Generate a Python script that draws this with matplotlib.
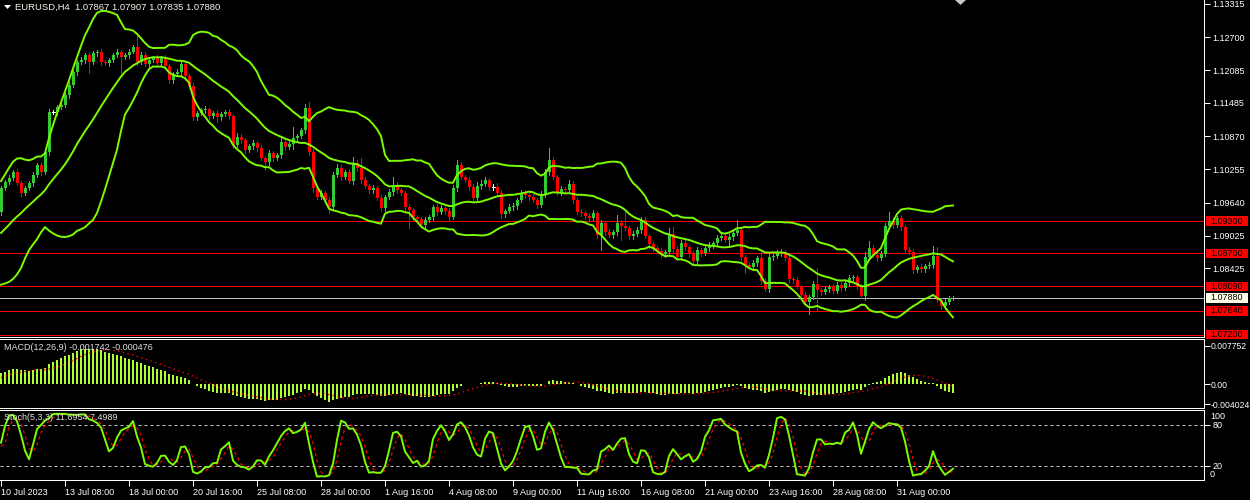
import numpy as np
import pandas as pd
import matplotlib
matplotlib.use('Agg')
import matplotlib.pyplot as plt
from matplotlib.transforms import blended_transform_factory
from matplotlib.patches import Rectangle, Polygon

plt.rcParams['font.family'] = ['Liberation Sans', 'DejaVu Sans']

# ---------------- data ----------------
header_text = "EURUSD,H4  1.07867 1.07907 1.07835 1.07880"
macd_label = "MACD(12,26,9) -0.001742 -0.000476"
stoch_label = "Stoch(5,3,3) 11.6954 7.4989"

# bars before the visible window (only needed to seed the indicators)
warmup_close = [1.0915, 1.0920, 1.0925, 1.0910, 1.0905, 1.0912,
                1.0885, 1.0880, 1.0890, 1.0882, 1.0888, 1.0880,
                1.0875, 1.0878, 1.0865, 1.0855, 1.0860, 1.0852,
                1.0860, 1.0855, 1.0840, 1.0860, 1.0885, 1.0890,
                1.0895, 1.0900, 1.0915, 1.0945, 1.0960, 1.0970,
                1.0965, 1.0960, 1.0955, 1.0947]

# H4 closes, 10 Jul 2023 16:00 -> 4 Sep 2023 08:00
close = [
    1.0991, 1.1002, 1.1010, 1.1021, 1.1000, 1.0982, 1.0991, 1.1000, 1.1015, 1.1034,
    1.1021, 1.1058, 1.1132, 1.1132, 1.1141, 1.1145, 1.1163, 1.1182, 1.1206, 1.1224,
    1.1228, 1.1237, 1.1224, 1.1241, 1.1243, 1.1224, 1.1222, 1.1228, 1.1237, 1.1243,
    1.1234, 1.1237, 1.1243, 1.1252, 1.1224, 1.1237, 1.1221, 1.1228, 1.1232, 1.1222,
    1.1232, 1.1217, 1.1191, 1.1202, 1.1206, 1.1221, 1.1198, 1.1180, 1.1122, 1.1130,
    1.1135, 1.1137, 1.1124, 1.1130, 1.1122, 1.1128, 1.1132, 1.1124, 1.1071, 1.1086,
    1.1080, 1.1061, 1.1069, 1.1074, 1.1065, 1.1047, 1.1039, 1.1056, 1.1047, 1.1052,
    1.1076, 1.1067, 1.1073, 1.1084, 1.1087, 1.1098, 1.1139, 1.1058, 1.0991, 1.0975,
    1.0982, 1.0969, 1.0956, 1.1015, 1.1028, 1.1012, 1.1021, 1.1004, 1.1037, 1.1028,
    1.1006, 1.0995, 1.0987, 1.0991, 1.0973, 1.0954, 1.0975, 1.0984, 1.0997, 1.0987,
    1.0982, 1.0956, 1.0950, 1.0937, 1.0934, 1.0923, 1.0932, 1.0937, 1.0956, 1.0947,
    1.0954, 1.0949, 1.0937, 1.0991, 1.1034, 1.1012, 1.1006, 1.0993, 1.0973, 1.0995,
    1.0999, 1.1006, 1.0993, 1.0993, 1.0982, 1.0943, 1.0949, 1.0956, 1.0958, 1.0969,
    1.0982, 1.0978, 1.0975, 1.0969, 1.0960, 1.0980, 1.1021, 1.1043, 1.1012, 1.0984,
    1.0989, 1.0987, 1.0999, 1.0969, 1.0947, 1.0945, 1.0939, 1.0936, 1.0945, 1.0904,
    1.0926, 1.0910, 1.0904, 1.0910, 1.0926, 1.0921, 1.0917, 1.0902, 1.0906, 1.0913,
    1.0932, 1.0902, 1.0887, 1.0880, 1.0875, 1.0869, 1.0873, 1.0906, 1.0878, 1.0863,
    1.0889, 1.0882, 1.0869, 1.0856, 1.0876, 1.0871, 1.0880, 1.0886, 1.0889, 1.0899,
    1.0902, 1.0895, 1.0900, 1.0908, 1.0913, 1.0863, 1.0849, 1.0845, 1.0852, 1.0862,
    1.0819, 1.0804, 1.0863, 1.0865, 1.0871, 1.0873, 1.0862, 1.0823, 1.0821, 1.0808,
    1.0793, 1.0780, 1.0789, 1.0813, 1.0802, 1.0799, 1.0804, 1.0808, 1.0801, 1.0812,
    1.0806, 1.0815, 1.0825, 1.0826, 1.0808, 1.0791, 1.0863, 1.0880, 1.0867, 1.0862,
    1.0869, 1.0921, 1.0930, 1.0923, 1.0936, 1.0919, 1.0876, 1.0873, 1.0839, 1.0845,
    1.0841, 1.0847, 1.0849, 1.0865, 1.0784, 1.0773, 1.0780, 1.0787, 1.0788]

# upper / lower shadow lengths in pips
wick_up = [
    4, 3, 5, 3, 6, 4, 3, 4, 5, 4,
    6, 4, 5, 3, 4, 6, 4, 5, 4, 3,
    5, 4, 6, 3, 4, 5, 3, 4, 4, 5,
    4, 3, 5, 4, 26, 5, 6, 4, 3, 5,
    4, 5, 3, 4, 6, 4, 5, 4, 6, 3,
    4, 5, 3, 4, 5, 3, 4, 5, 4, 6,
    5, 4, 3, 5, 4, 6, 4, 5, 3, 4,
    9, 4, 5, 20, 4, 5, 8, 11, 5, 4,
    5, 4, 6, 5, 7, 5, 4, 6, 11, 5,
    18, 5, 4, 6, 4, 5, 4, 5, 15, 6,
    5, 4, 6, 4, 5, 4, 6, 5, 4, 6,
    5, 4, 5, 6, 9, 5, 4, 6, 5, 8,
    6, 5, 4, 5, 8, 5, 4, 6, 5, 4,
    5, 6, 4, 5, 4, 6, 5, 22, 5, 4,
    5, 4, 6, 5, 4, 5, 4, 5, 6, 4,
    5, 4, 5, 4, 15, 5, 25, 4, 5, 6,
    5, 6, 4, 5, 4, 5, 4, 11, 13, 5,
    6, 5, 4, 5, 6, 4, 5, 6, 4, 5,
    4, 5, 6, 5, 18, 6, 5, 4, 5, 4,
    11, 5, 7, 4, 5, 6, 4, 5, 4, 5,
    4, 5, 4, 6, 30, 5, 6, 4, 5, 6,
    5, 4, 6, 5, 4, 5, 10, 13, 5, 4,
    5, 6, 17, 5, 4, 5, 4, 6, 5, 4,
    5, 4, 6, 18, 17, 4, 5, 4, 3]
wick_dn = [
    5, 4, 3, 5, 4, 6, 4, 3, 5, 4,
    5, 4, 6, 4, 5, 3, 4, 5, 4, 6,
    4, 5, 20, 4, 5, 6, 4, 5, 3, 4,
    30, 4, 5, 3, 6, 4, 5, 6, 4, 5,
    5, 4, 6, 5, 4, 5, 6, 4, 5, 6,
    4, 5, 6, 4, 8, 5, 4, 6, 5, 4,
    6, 5, 4, 6, 5, 4, 15, 5, 6, 4,
    5, 6, 4, 10, 5, 4, 5, 6, 7, 5,
    4, 6, 11, 5, 4, 6, 5, 4, 5, 6,
    5, 4, 6, 5, 4, 6, 5, 4, 5, 6,
    4, 5, 33, 5, 4, 6, 5, 4, 6, 5,
    4, 6, 5, 4, 6, 5, 4, 5, 6, 4,
    5, 4, 6, 5, 4, 7, 5, 4, 6, 5,
    4, 5, 6, 4, 5, 4, 6, 5, 4, 6,
    5, 4, 5, 6, 4, 5, 6, 4, 5, 6,
    28, 5, 4, 6, 5, 26, 4, 5, 6, 4,
    5, 4, 6, 5, 4, 6, 5, 4, 5, 6,
    4, 5, 6, 7, 4, 5, 4, 6, 5, 4,
    5, 4, 11, 5, 4, 6, 15, 4, 5, 6,
    5, 4, 6, 5, 4, 5, 4, 5, 6, 4,
    5, 5, 22, 4, 37, 5, 4, 6, 5, 4,
    6, 4, 5, 6, 4, 4, 7, 5, 4, 6,
    5, 4, 6, 5, 4, 6, 5, 4, 5, 4,
    5, 6, 4, 5, 4, 5, 6, 4, 4]

red_levels = [1.09300, 1.08700, 1.08090, 1.07640, 1.07200]
bid_level = 1.07880
price_ticks = [1.13315, 1.12700, 1.12085, 1.11485, 1.10870, 1.10255,
               1.09640, 1.09025, 1.08425]
macd_ticks = [0.007752, 0.0, -0.004024]
macd_tick_labels = ["0.007752", "0.00", "-0.004024"]
stoch_levels = [80, 20]
x_tick_idx = [0, 16, 32, 48, 64, 80, 96, 112, 128, 144, 160, 176, 192, 208, 224]
x_tick_labels = ["10 Jul 2023", "13 Jul 08:00", "18 Jul 00:00", "20 Jul 16:00",
                 "25 Jul 08:00", "28 Jul 00:00", "1 Aug 16:00", "4 Aug 08:00",
                 "9 Aug 00:00", "11 Aug 16:00", "16 Aug 08:00", "21 Aug 00:00",
                 "23 Aug 16:00", "28 Aug 08:00", "31 Aug 00:00"]

# ---------------- derived series ----------------
n = len(close)
nw = len(warmup_close)
c = np.array(close)
o = np.array([warmup_close[-1]] + close[:-1])
hi = np.maximum(o, c) + np.array(wick_up) * 1e-4
lo = np.minimum(o, c) - np.array(wick_dn) * 1e-4

s_close = pd.Series(list(warmup_close) + list(c))
s_high = pd.Series(list(warmup_close) + list(hi))
s_low = pd.Series(list(warmup_close) + list(lo))

mid = s_close.rolling(20).mean()
sd = s_close.rolling(20).std(ddof=0)
bb_mid = mid.values[nw:]
bb_up = (mid + 2 * sd).values[nw:]
bb_lo = (mid - 2 * sd).values[nw:]

ema12 = s_close.ewm(span=12, adjust=False).mean()
ema26 = s_close.ewm(span=26, adjust=False).mean()
macd = ema12 - ema26
sig = macd.rolling(9).mean()
macd_v = macd.values[nw:]
sig_v = sig.values[nw:]

hh = s_high.rolling(5).max()
ll = s_low.rolling(5).min()
k = 100 * (s_close - ll).rolling(3).sum() / (hh - ll).rolling(3).sum()
d = k.rolling(3).mean()
k_v = k.values[nw:]
d_v = d.values[nw:]

idx = np.arange(n)

# ---------------- figure ----------------
W, H = 1250, 500
fig = plt.figure(figsize=(12.5, 5), dpi=100, facecolor='black')
PX = 0.72
FS = 6.5
XR = 1204
XLIM = (-0.25, (XR - 1) / 4)


def axes_px(x0, y0, x1, y1):
    ax = fig.add_axes([x0 / W, 1 - y1 / H, (x1 - x0) / W, (y1 - y0) / H])
    ax.set_facecolor('black')
    ax.set_xlim(*XLIM)
    for sp in ax.spines.values():
        sp.set_color('white')
        sp.set_linewidth(PX)
    ax.spines['left'].set_visible(False)
    ax.tick_params(axis='x', bottom=False, labelbottom=False)
    ax.yaxis.tick_right()
    ax.tick_params(axis='y', colors='white', length=4, width=PX, pad=2,
                   labelsize=FS, direction='out')
    return ax


# main price panel
ax = axes_px(0, 0, XR, 337)
ax.spines['top'].set_visible(False)
ax.set_ylim(1.13389 - 0.000185 * 337, 1.13389)

for lv in red_levels:
    ax.axhline(lv, color='#FF0000', lw=PX, zorder=1, antialiased=False)
ax.axhline(bid_level, color='#C0C0C0', lw=PX, zorder=1, antialiased=False)

bull = c > o
bear = c < o
doji = c == o
GREEN = '#32CD32'
ax.vlines(idx[bull], lo[bull], hi[bull], color=GREEN, lw=PX, zorder=3,
          antialiased=False)
ax.vlines(idx[bear], lo[bear], hi[bear], color='#FF0000', lw=PX, zorder=3,
          antialiased=False)
ax.vlines(idx[doji], lo[doji], hi[doji], color='white', lw=PX, zorder=3,
          antialiased=False)
bw = 0.75
ax.bar(idx[bull], (c - o)[bull], bottom=o[bull], width=bw, color=GREEN,
       linewidth=0, zorder=4, antialiased=False)
ax.bar(idx[bear], (o - c)[bear], bottom=c[bear], width=bw, color='#FF0000',
       linewidth=0, zorder=4, antialiased=False)
ax.hlines(c[doji], idx[doji] - bw / 2, idx[doji] + bw / 2, color='white',
          lw=PX, zorder=4, antialiased=False)

bbc = '#7CFC00'
for band in (bb_up, bb_mid, bb_lo):
    ax.plot(idx, band, color=bbc, lw=1.4, zorder=5)

ax.set_yticks(price_ticks)
ax.set_yticklabels([f"{p:.5f}" for p in price_ticks])

tr = blended_transform_factory(ax.transAxes, ax.transData)
box_w = 42 / XR
box_h = 9.5 * 0.000185
for lv in red_levels + [bid_level]:
    fc = '#FF0000' if lv != bid_level else '#FFFFE8'
    ax.add_patch(Rectangle((1 + 2 / XR, lv - box_h / 2), box_w, box_h,
                           transform=tr, facecolor=fc, edgecolor='none',
                           clip_on=False, zorder=6))
    ax.text(1 + 23 / XR, lv, f"{lv:.5f}", transform=tr, ha='center',
            va='center', fontsize=FS, color='black', clip_on=False, zorder=7)

# MACD panel
axm = axes_px(0, 339, XR, 407.5)
px_per = 4.93 / 0.001
axm.set_ylim(-0.004024 - 3.5 / px_per, 0.007752 + 7 / px_per)
axm.bar(idx, macd_v, width=0.7, color='#ADFF2F', linewidth=0, zorder=2,
        antialiased=False)
axm.plot(idx, sig_v, color='#FF0000', lw=1.0, linestyle=(0, (1, 2.5)), zorder=3)
axm.set_yticks(macd_ticks)
axm.set_yticklabels(macd_tick_labels)
axm.tick_params(axis='y', pad=1, labelsize=6.2)

# Stochastic panel
axs = axes_px(0, 410, XR, 480)
axs.set_ylim(-1, 102)
for lv in stoch_levels:
    axs.axhline(lv, color='#C0C0C0', lw=PX, linestyle=(0, (3, 3)), zorder=1)
axs.plot(idx, k_v, color=bbc, lw=1.4, zorder=3)
axs.plot(idx, d_v, color='#FF0000', lw=0.9, linestyle=(0, (2.5, 2.5)), zorder=2)
axs.set_yticks(stoch_levels)
axs.set_yticklabels([str(v) for v in stoch_levels])
trs = blended_transform_factory(axs.transAxes, axs.transData)
axs.text(1 + 6 / XR, 92, "100", transform=trs, ha='left', va='center',
         fontsize=FS, color='white', clip_on=False)
axs.text(1 + 6 / XR, 7, "0", transform=trs, ha='left', va='center',
         fontsize=FS, color='white', clip_on=False)

axs.set_xticks(x_tick_idx)
axs.set_xticklabels(x_tick_labels)
axs.tick_params(axis='x', bottom=True, labelbottom=True, colors='white',
                length=4, width=PX, pad=2, labelsize=FS, direction='out')
for lab in axs.get_xticklabels():
    lab.set_ha('left')

# header and panel captions
fig.text(15 / W, 1 - 7.5 / H, header_text, fontsize=6.8, color='#F4F4E8',
         ha='left', va='center')
fig.text(4 / W, 1 - 348 / H, macd_label, fontsize=FS, color='#E0E0E0',
         ha='left', va='center', zorder=10)
fig.text(4 / W, 1 - 418 / H, stoch_label, fontsize=FS, color='#E0E0E0',
         ha='left', va='center', zorder=10)

fig.patches.append(Polygon([(4 / W, 1 - 5 / H), (11 / W, 1 - 5 / H), (7.5 / W, 1 - 9 / H)],
                           closed=True, transform=fig.transFigure,
                           facecolor='white', edgecolor='none'))
fig.patches.append(Polygon([(955 / W, 1.0), (966 / W, 1.0), (960.5 / W, 1 - 5 / H)],
                           closed=True, transform=fig.transFigure,
                           facecolor='#C8C8C8', edgecolor='none'))

fig.savefig('out.png', dpi=100, facecolor='black')
